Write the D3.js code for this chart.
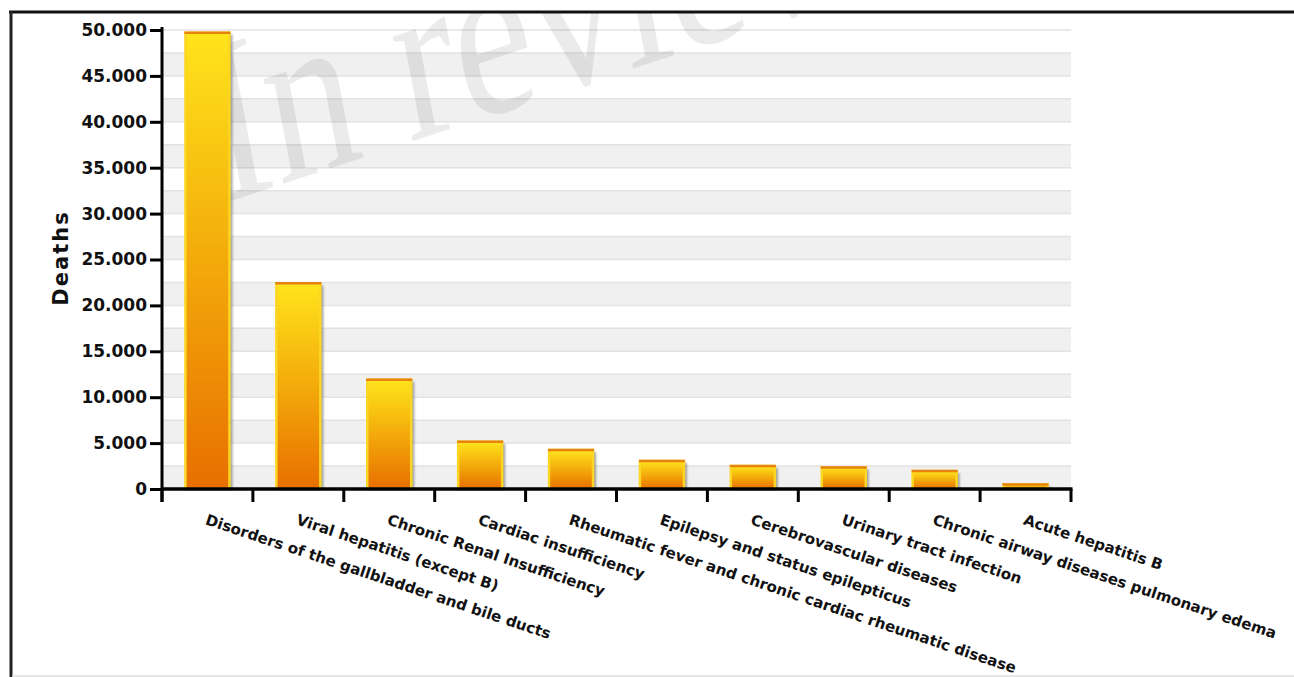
<!DOCTYPE html>
<html>
<head>
<meta charset="utf-8">
<script src="https://cdn.jsdelivr.net/npm/d3@7"></script>
<style>
  html, body { margin: 0; padding: 0; background: #fff; }
  svg { display: block; }
</style>
</head>
<body>
<svg id="chart" width="1294" height="677"></svg>
<script>
const categories = [
  "Disorders of the gallbladder and bile ducts",
  "Viral hepatitis (except B)",
  "Chronic Renal Insufficiency",
  "Cardiac insufficiency",
  "Rheumatic fever and chronic cardiac rheumatic disease",
  "Epilepsy and status epilepticus",
  "Cerebrovascular diseases",
  "Urinary tract infection",
  "Chronic airway diseases pulmonary edema",
  "Acute hepatitis B"
];
const deaths = [49700, 22400, 11900, 5150, 4250, 3050, 2500, 2350, 1950, 500];
const yTicks = [0, 5000, 10000, 15000, 20000, 25000, 30000, 35000, 40000, 45000, 50000];
const yAxisTitle = "Deaths";
const watermark = "In review";

const svg = d3.select("#chart");
const W = 1294, H = 677;
const plot = { left: 162, right: 1071, top: 30, bottom: 489 };

const x = d3.scaleBand().domain(categories).range([plot.left, plot.right]).paddingInner(0).paddingOuter(0);
const y = d3.scaleLinear().domain([0, 50000]).range([plot.bottom, plot.top]);
const locale = d3.formatLocale({ decimal: ",", thousands: ".", grouping: [3], currency: ["", ""] });
const fmt = locale.format(",");

const defs = svg.append("defs");
const grad = defs.append("linearGradient").attr("id", "barGrad")
  .attr("x1", 0).attr("y1", 0).attr("x2", 0).attr("y2", 1);
grad.append("stop").attr("offset", "0%").attr("stop-color", "#ffe41c");
grad.append("stop").attr("offset", "45%").attr("stop-color", "#f4b00c");
grad.append("stop").attr("offset", "100%").attr("stop-color", "#e86f00");
const blur = defs.append("filter").attr("id", "shadow").attr("x", "-20%").attr("y", "-20%").attr("width", "140%").attr("height", "140%");
blur.append("feGaussianBlur").attr("stdDeviation", 1.2);
defs.append("clipPath").attr("id", "frameClip")
  .append("rect").attr("x", 12).attr("y", 13).attr("width", W).attr("height", H);

// grid bands
const band = 2500;
const bandStarts = d3.range(0, 50000, 5000);
svg.append("g").selectAll("rect").data(bandStarts).join("rect")
  .attr("x", plot.left).attr("width", plot.right - plot.left)
  .attr("y", d => y(d + band)).attr("height", d => y(d) - y(d + band))
  .attr("fill", "#f0f0f0");
svg.append("g").selectAll("line").data(d3.range(band, 50001, band)).join("line")
  .attr("x1", plot.left).attr("x2", plot.right)
  .attr("y1", d => y(d)).attr("y2", d => y(d))
  .attr("stroke", "#e2e2e2").attr("stroke-width", 1.5);

// watermark (clipped by the frame, as in the reference)
svg.append("g").attr("clip-path", "url(#frameClip)")
  .append("text")
  .attr("transform", "translate(222,204) scale(1,1.32) rotate(-14)")
  .attr("font-family", "'Liberation Serif', 'DejaVu Serif', serif")
  .attr("font-size", 178)
  .attr("fill", "#000").attr("fill-opacity", 0.08)
  .text(watermark);

// bars
const bw = 44;
const bars = svg.append("g").selectAll("g").data(categories).join("g");
bars.append("rect")
  .attr("x", d => x(d) + x.bandwidth() / 2 - bw / 2 + 3)
  .attr("y", (d, i) => y(deaths[i]) + 2)
  .attr("width", bw).attr("height", (d, i) => Math.max(0, plot.bottom - y(deaths[i]) - 2))
  .attr("fill", "#666").attr("fill-opacity", 0.6).attr("filter", "url(#shadow)");
bars.append("rect")
  .attr("x", d => x(d) + x.bandwidth() / 2 - bw / 2)
  .attr("y", (d, i) => y(deaths[i]))
  .attr("width", bw).attr("height", (d, i) => plot.bottom - y(deaths[i]))
  .attr("fill", "url(#barGrad)")
  .attr("stroke", "#fcd624").attr("stroke-width", 2.5);
bars.append("line")
  .attr("x1", d => x(d) + x.bandwidth() / 2 - bw / 2 - 1)
  .attr("x2", d => x(d) + x.bandwidth() / 2 + bw / 2 + 1)
  .attr("y1", (d, i) => y(deaths[i])).attr("y2", (d, i) => y(deaths[i]))
  .attr("stroke", "#e4840e").attr("stroke-width", 2.5);

// y axis
const yAxis = svg.append("g").attr("transform", `translate(${plot.left},0)`)
  .call(d3.axisLeft(y).tickValues(yTicks).tickFormat(fmt).tickSize(12).tickSizeOuter(0).tickPadding(3));
yAxis.select(".domain").attr("stroke", "#000").attr("stroke-width", 3)
  .attr("d", `M0,${plot.top - 3}V${plot.bottom + 13}`);
yAxis.selectAll(".tick line").attr("stroke", "#000").attr("stroke-width", 3);
yAxis.selectAll(".tick text")
  .attr("font-family", "'DejaVu Sans', sans-serif").attr("font-weight", "bold")
  .attr("font-size", 17).attr("fill", "#111");

// x axis with ticks at band boundaries
const boundaries = categories.map(c => x(c)).concat([plot.right]);
const xg = svg.append("g");
xg.append("line").attr("x1", plot.left).attr("x2", plot.right + 1.5)
  .attr("y1", plot.bottom).attr("y2", plot.bottom)
  .attr("stroke", "#000").attr("stroke-width", 3.5);
xg.selectAll("line.tk").data(boundaries).join("line").attr("class", "tk")
  .attr("x1", d => d).attr("x2", d => d)
  .attr("y1", plot.bottom).attr("y2", plot.bottom + 13)
  .attr("stroke", "#000").attr("stroke-width", 3);
xg.selectAll("text").data(categories).join("text")
  .attr("transform", d => `translate(${x(d) + x.bandwidth() / 2 - 3},524) rotate(18.5)`)
  .attr("font-family", "'DejaVu Sans', sans-serif").attr("font-weight", "bold")
  .attr("font-size", 15).attr("fill", "#111")
  .text(d => d);

// y axis title
svg.append("text")
  .attr("transform", "translate(68,258) rotate(-90)")
  .attr("text-anchor", "middle")
  .attr("font-family", "'DejaVu Sans', sans-serif").attr("font-weight", "bold")
  .attr("font-size", 21).attr("letter-spacing", 2).attr("fill", "#111")
  .text(yAxisTitle);

// frame
svg.append("line").attr("x1", 9).attr("x2", W).attr("y1", 12).attr("y2", 12)
  .attr("stroke", "#111").attr("stroke-width", 3);
svg.append("line").attr("x1", 11).attr("x2", 11).attr("y1", 11).attr("y2", H)
  .attr("stroke", "#222").attr("stroke-width", 3);
svg.append("line").attr("x1", 12).attr("x2", W).attr("y1", 676).attr("y2", 676)
  .attr("stroke", "#dcdcdc").attr("stroke-width", 1.5);
</script>
</body>
</html>
